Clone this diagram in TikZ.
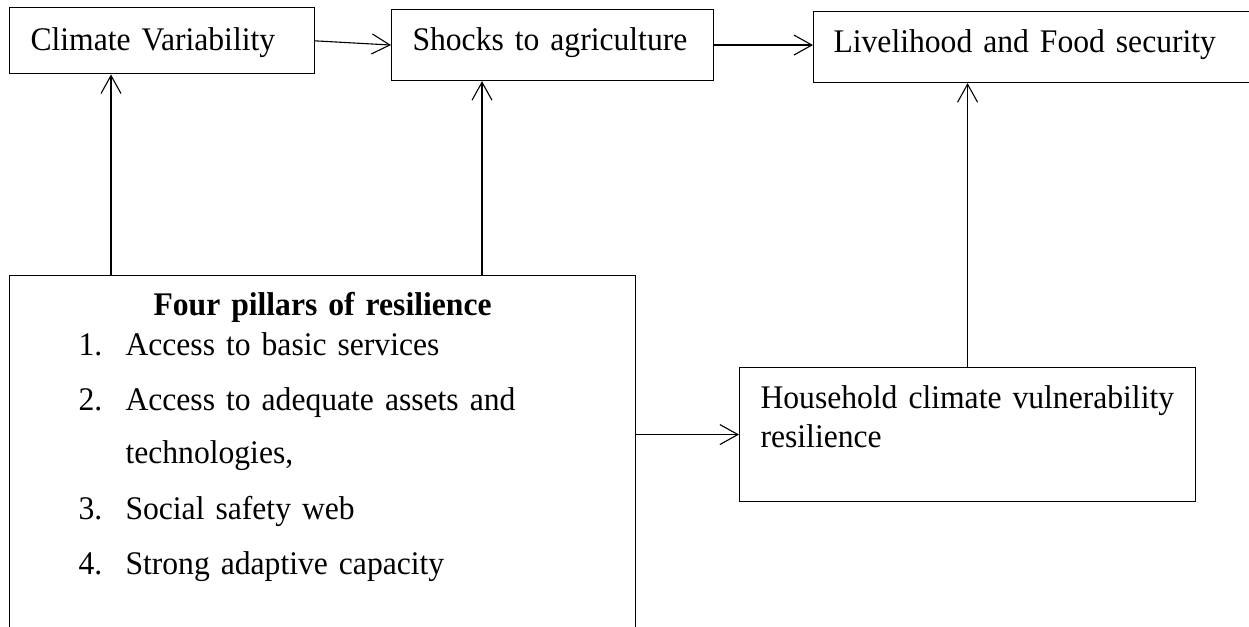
\documentclass[tikz,border=0pt]{standalone}
\usepackage{fontspec}
\setmainfont{Liberation Serif}[FakeStretch=0.958]
\usetikzlibrary{arrows.meta}

\begin{document}
\begin{tikzpicture}[x=1pt, y=-1pt, line width=1.1pt]
	\useasboundingbox (0,0) rectangle (1249,626);
	\begin{scope}[every node/.style={draw, anchor=north west, align=left, inner xsep=21pt, inner ysep=0pt,
	              font=\fontsize{33}{38.3}\selectfont}]
		\node[text width=263pt, text height=42.2pt, text depth=23.8pt] (climate) at (9,7.3) {Climate Variability};
		\node[text width=280pt, text height=41pt, text depth=30pt] (shocks) at (391,9) {Shocks to agriculture};
		\node[text width=430pt, inner xsep=20pt, text height=41.3pt, text depth=29.7pt] (livelihood) at (813,11) {Livelihood and Food security};
		\node[text width=414pt, text height=41.3pt, text depth=92.7pt] (household) at (739,367) {Household climate vulnerability\\resilience};
		\node[text width=488pt, inner xsep=69pt, text height=40.3pt, text depth=325pt,
		      font=\fontsize{33}{40}\selectfont] (pillars) at (9,274.7) {%
			\makebox[\linewidth]{\textbf{Four pillars of resilience}}\\
			\makebox[47pt][l]{1.}Access to basic services\\[15pt]
			\makebox[47pt][l]{2.}Access to adequate assets and\\[13pt]
			\hspace*{47pt}technologies,\\[16pt]
			\makebox[47pt][l]{3.}Social safety web\\[15pt]
			\makebox[47pt][l]{4.}Strong adaptive capacity};
	\end{scope}
	\coordinate (cvx) at (111,0);
	\coordinate (sax) at (482,0);
	\begin{scope}[>={Straight Barb[length=18pt, width=20pt]},
	              every edge/.style={draw=black}]
		\path[->] (climate.east) edge (shocks.west);
		\path[->] (shocks.east) edge (shocks.east -| livelihood.west);
		\path[->] (pillars.north -| cvx) edge (climate.south -| cvx);
		\path[->] (pillars.north -| sax) edge (shocks.south -| sax);
		\path[->] (household.west -| pillars.east) edge (household.west);
		\path[->] (household.north) edge (household.north |- livelihood.south);
	\end{scope}
\end{tikzpicture}
\end{document}
